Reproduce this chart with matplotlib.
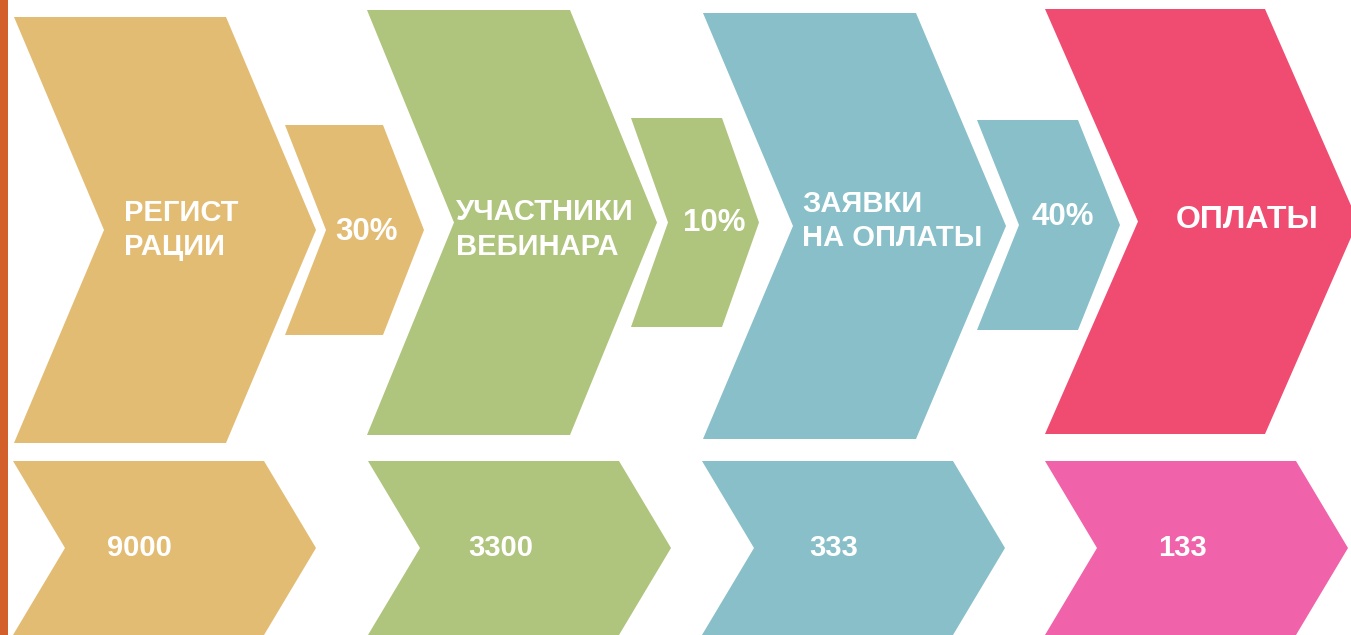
import matplotlib
matplotlib.use("Agg")
import matplotlib.pyplot as plt
from matplotlib.patches import Polygon, Rectangle

# данные воронки
etapy = ["РЕГИСТ\nРАЦИИ", "УЧАСТНИКИ\nВЕБИНАРА", "ЗАЯВКИ\nНА ОПЛАТЫ", "ОПЛАТЫ"]
kolichestvo = [9000, 3300, 333, 133]
konversiya = ["30%", "10%", "40%"]

cveta_verh = ["#E3BC74", "#AFC47C", "#88BFC9", "#F04C72"]
cveta_niz = ["#E3BC74", "#AFC47C", "#88BFC9", "#F062A9"]
cvet_polosy = "#D35F2B"

# разметка (пиксели, ось y вниз)
big_x = [14, 367, 703, 1045]          # левый край большого шеврона
big_top = [17, 10, 13, 9]
big_bot = [443, 435, 439, 434]
big_w = [212, 203, 213, 220]
big_d = [90, 87, 90, 93]
text_x = [124, 456, 802, 1176]
text_dy = [0, 7, -5, -1]
text_size = [21, 21, 21, 23]

small_x = [285, 631, 977]
small_top = [125, 118, 120]
small_bot = [335, 327, 330]
small_w = [98, 91, 101]
small_d = [41, 37, 42]
pct_cx = [367, 714, 1063]
pct_cy = [232, 223, 217]

low_x = [13, 368, 702, 1045]
low_top = 461
low_bot = 635
low_w = 251
low_d = 52
num_dx = [126, 133, 132, 137]

FONT = ["Liberation Sans", "DejaVu Sans"]


def chevron(ax, x, top, bot, w, d, color):
    mid = (top + bot) / 2
    pts = [(x, top), (x + w, top), (x + w + d, mid), (x + w, bot), (x, bot), (x + d, mid)]
    ax.add_patch(Polygon(pts, closed=True, facecolor=color, edgecolor="none"))
    return mid


fig = plt.figure(figsize=(13.51, 6.35), dpi=100)
ax = fig.add_axes([0, 0, 1, 1])
ax.set_xlim(0, 1351)
ax.set_ylim(635, 0)
ax.axis("off")

ax.add_patch(Rectangle((0, 0), 8, 635, facecolor=cvet_polosy, edgecolor="none"))

for i, name in enumerate(etapy):
    mid = chevron(ax, big_x[i], big_top[i], big_bot[i], big_w[i], big_d[i], cveta_verh[i])
    ax.text(text_x[i], mid + text_dy[i], name, color="white", fontsize=text_size[i],
            fontweight="bold", family=FONT, ha="left", va="center", linespacing=1.3)

    lmid = chevron(ax, low_x[i], low_top, low_bot, low_w, low_d, cveta_niz[i])
    ax.text(low_x[i] + num_dx[i], lmid, str(kolichestvo[i]),
            color="white", fontsize=21, fontweight="bold", family=FONT,
            ha="center", va="center")

for i, pct in enumerate(konversiya):
    chevron(ax, small_x[i], small_top[i], small_bot[i], small_w[i], small_d[i], cveta_verh[i])
    ax.text(pct_cx[i], pct_cy[i], pct, color="white", fontsize=22.5, fontweight="bold",
            family=FONT, ha="center", va="center")

fig.savefig("out.png", dpi=100)
